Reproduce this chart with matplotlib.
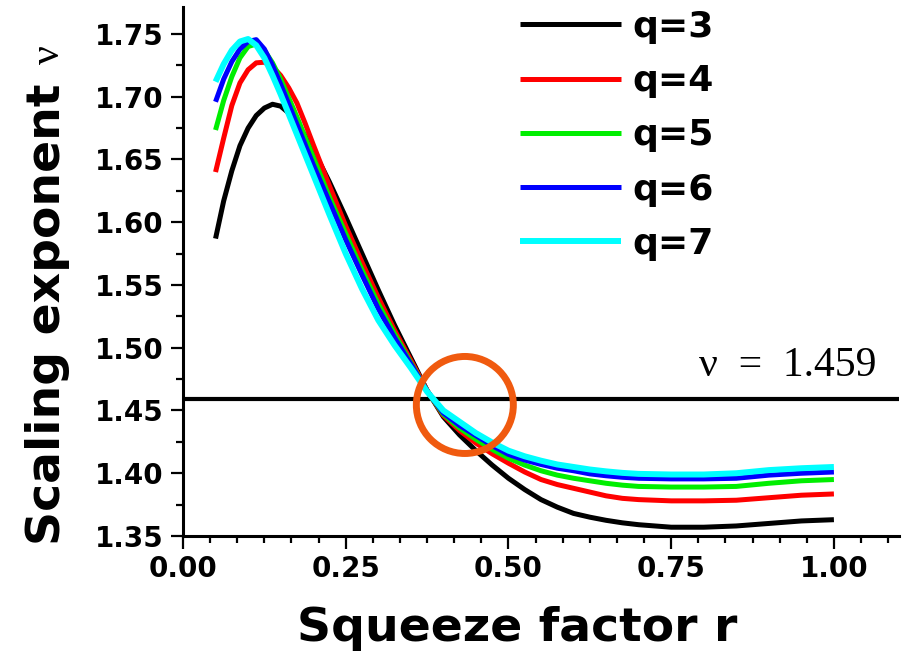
import numpy as np
import matplotlib.pyplot as plt
from matplotlib.patches import Ellipse
from matplotlib.ticker import MultipleLocator, AutoMinorLocator, FormatStrFormatter

plt.rcParams['font.family'] = 'DejaVu Sans'
plt.rcParams['font.weight'] = 'bold'

# squeeze factor grid and scaling exponent for each q
r = [0.05, 0.0625, 0.075, 0.0875, 0.10, 0.1125, 0.125, 0.1375, 0.15, 0.1625,
     0.175, 0.1875, 0.20, 0.225, 0.25, 0.275, 0.30, 0.325, 0.35, 0.375,
     0.40, 0.425, 0.45, 0.475, 0.50, 0.525, 0.55, 0.575, 0.60, 0.625,
     0.65, 0.675, 0.70, 0.75, 0.80, 0.85, 0.90, 0.95, 1.00]

nu_q3 = [1.587, 1.617, 1.641, 1.661, 1.675, 1.685, 1.691, 1.694, 1.6925, 1.687,
         1.679, 1.669, 1.658, 1.632, 1.604, 1.575, 1.546, 1.518, 1.492, 1.466,
         1.445, 1.4305, 1.418, 1.4065, 1.396, 1.387, 1.379, 1.373, 1.368, 1.365,
         1.3625, 1.3605, 1.359, 1.357, 1.357, 1.358, 1.360, 1.362, 1.363]
nu_q4 = [1.640, 1.667, 1.693, 1.711, 1.7215, 1.727, 1.7275, 1.724, 1.717, 1.707,
         1.695, 1.679, 1.662, 1.629, 1.597, 1.568, 1.540, 1.514, 1.490, 1.466,
         1.446, 1.434, 1.424, 1.4155, 1.408, 1.401, 1.395, 1.391, 1.388, 1.385,
         1.382, 1.380, 1.379, 1.378, 1.378, 1.3785, 1.3805, 1.3825, 1.3835]
nu_q5 = [1.6735, 1.697, 1.716, 1.731, 1.740, 1.742, 1.737, 1.727, 1.714, 1.699,
         1.684, 1.668, 1.652, 1.620, 1.591, 1.562, 1.535, 1.511, 1.488, 1.4655,
         1.447, 1.436, 1.427, 1.419, 1.412, 1.4065, 1.402, 1.3985, 1.396, 1.394,
         1.392, 1.3905, 1.3895, 1.389, 1.389, 1.3895, 1.392, 1.394, 1.395]
nu_q6 = [1.696, 1.714, 1.728, 1.738, 1.744, 1.7455, 1.738, 1.725, 1.710, 1.694,
         1.678, 1.662, 1.646, 1.616, 1.586, 1.558, 1.531, 1.508, 1.487, 1.4655,
         1.448, 1.438, 1.430, 1.422, 1.415, 1.4105, 1.407, 1.404, 1.402, 1.3995,
         1.398, 1.3968, 1.396, 1.3955, 1.3955, 1.396, 1.3985, 1.400, 1.401]
nu_q7 = [1.712, 1.726, 1.737, 1.744, 1.746, 1.741, 1.731, 1.717, 1.702, 1.686,
         1.670, 1.654, 1.638, 1.606, 1.575, 1.547, 1.522, 1.502, 1.484, 1.465,
         1.450, 1.441, 1.432, 1.4245, 1.418, 1.4135, 1.410, 1.407, 1.405, 1.403,
         1.4015, 1.4003, 1.3995, 1.399, 1.399, 1.400, 1.4025, 1.404, 1.405]

labels = ['q=3', 'q=4', 'q=5', 'q=6', 'q=7']
colors = ['black', 'red', '#00ee00', 'blue', 'cyan']
nu_c = 1.459

fig = plt.figure(figsize=(9.07, 6.53), dpi=100)
ax = fig.add_axes([183/907, 117/653, 716/907, 529/653])

ax.axhline(nu_c, color='black', lw=3, zorder=1)

series = [nu_q3, nu_q4, nu_q5, nu_q6, nu_q7]
for i, (ys, lab, c) in enumerate(zip(series, labels, colors)):
    lw = 4.3 if i == 4 else 3.6
    ax.plot(r, ys, color=c, lw=lw, label=lab, zorder=2 + i,
            solid_capstyle='butt', solid_joinstyle='round')

# circle around the crossing point
ax.add_patch(Ellipse((0.433, 1.4544), width=0.149, height=0.0773,
                     fill=False, ec='#f05a0f', lw=5, zorder=10))

ax.annotate('ν  =  1.459', xy=(1.1, nu_c), xytext=(-16, 16.5),
            textcoords='offset points', ha='right', va='baseline',
            fontsize=30, fontweight='normal', family='Liberation Serif')

ax.set_xlim(0, 1.1)
ax.set_ylim(1.35, 1.7715)
ax.xaxis.set_major_locator(MultipleLocator(0.25))
ax.xaxis.set_minor_locator(AutoMinorLocator(6))
ax.yaxis.set_major_locator(MultipleLocator(0.05))
ax.yaxis.set_minor_locator(AutoMinorLocator(2))
ax.xaxis.set_major_formatter(FormatStrFormatter('%.2f'))
ax.yaxis.set_major_formatter(FormatStrFormatter('%.2f'))

for s in ['top', 'right']:
    ax.spines[s].set_visible(False)
for s in ['left', 'bottom']:
    ax.spines[s].set_linewidth(2.2)

ax.tick_params(which='major', direction='out', length=9, width=1.6,
               labelsize=20, pad=5)
ax.tick_params(which='minor', direction='out', length=5, width=1.6)

ax.set_ylabel('Scaling exponent', fontsize=34, fontweight='bold')
ax.yaxis.set_label_coords(-0.158, 0.42)
fig.text(49/907, 1 - 55/653, 'ν', rotation=90, ha='center', va='center',
         fontsize=30, fontweight='normal', family='Liberation Serif')
fig.text(517/907, 1 - 641/653, 'Squeeze factor r', ha='center',
         va='baseline', fontsize=34, fontweight='bold')

ax.legend(loc='upper left', bbox_to_anchor=(520/907, 1 - 10/653),
          bbox_transform=fig.transFigure, frameon=False,
          prop={'weight': 'bold', 'size': 26}, handlelength=2.8,
          handletextpad=0.3, labelspacing=0.56, borderpad=0,
          borderaxespad=0)

plt.savefig('out.png', dpi=100)
